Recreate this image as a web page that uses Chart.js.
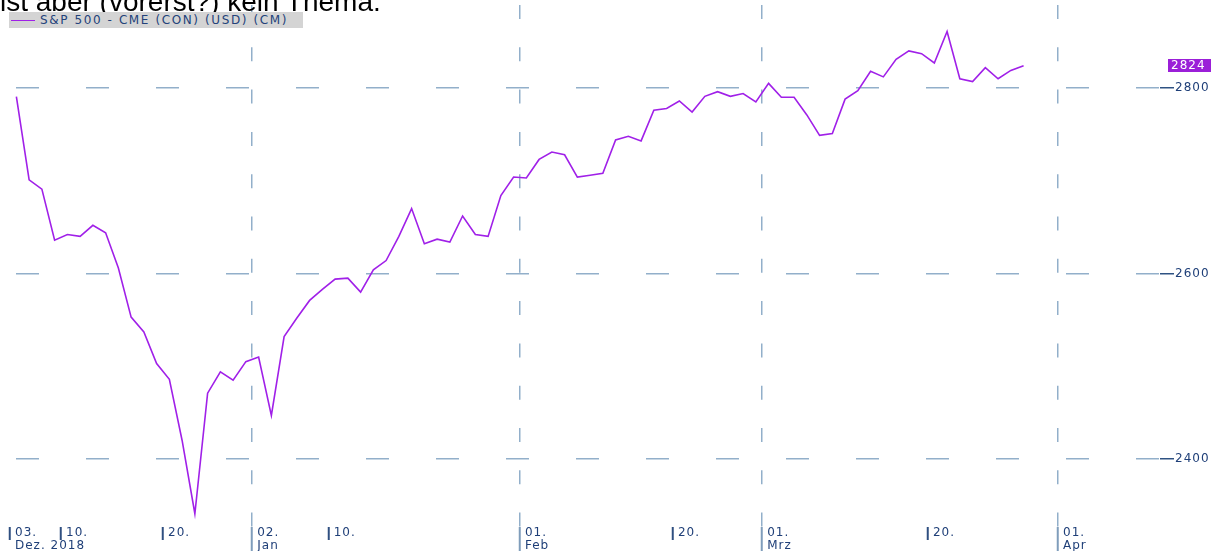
<!DOCTYPE html>
<html><head><meta charset="utf-8">
<script src="https://cdn.jsdelivr.net/npm/chart.js@4.4.1/dist/chart.umd.min.js"></script>
<style>
html,body{margin:0;padding:0;background:#fff;overflow:hidden;}
#wrap{position:relative;width:1215px;height:551px;overflow:hidden;background:#fff;}
#c{position:absolute;left:0;top:0;}
#top{position:absolute;left:0;top:-12px;font:28px/28px "Liberation Sans",Arial,sans-serif;color:#000;white-space:nowrap;}
#leg{position:absolute;left:9px;top:12px;width:294px;height:16px;background:#d4d4d4;font:12px/16px "DejaVu Sans",sans-serif;letter-spacing:1.6px;color:#23427a;white-space:nowrap;}
#leg i{display:inline-block;width:24px;height:0;border-top:1px solid #a020e8;vertical-align:middle;margin:0 5px 0 2px;}
</style></head>
<body><div id="wrap"><canvas id="c" width="1215" height="551"></canvas><div id="top">ist aber (vorerst?) kein Thema.</div><div id="leg"><i></i>S&amp;P 500 - CME (CON) (USD) (CM)</div></div>
<script>
const dates = [
 '2018-12-03','2018-12-04','2018-12-06','2018-12-07','2018-12-10','2018-12-11','2018-12-12','2018-12-13','2018-12-14','2018-12-17','2018-12-18','2018-12-19','2018-12-20','2018-12-21','2018-12-24','2018-12-26','2018-12-27','2018-12-28','2018-12-31',
 '2019-01-02','2019-01-03','2019-01-04','2019-01-07','2019-01-08','2019-01-09','2019-01-10','2019-01-11','2019-01-14','2019-01-15','2019-01-16','2019-01-17','2019-01-18','2019-01-22','2019-01-23','2019-01-24','2019-01-25','2019-01-28','2019-01-29','2019-01-30','2019-01-31',
 '2019-02-01','2019-02-04','2019-02-05','2019-02-06','2019-02-07','2019-02-08','2019-02-11','2019-02-12','2019-02-13','2019-02-14','2019-02-15','2019-02-19','2019-02-20','2019-02-21','2019-02-22','2019-02-25','2019-02-26','2019-02-27','2019-02-28',
 '2019-03-01','2019-03-04','2019-03-05','2019-03-06','2019-03-07','2019-03-08','2019-03-11','2019-03-12','2019-03-13','2019-03-14','2019-03-15','2019-03-18','2019-03-19','2019-03-20','2019-03-21','2019-03-22','2019-03-25','2019-03-26','2019-03-27','2019-03-28','2019-03-29'
];
const values = [
 2790.6,2701,2691,2636,2642,2640,2652,2644,2606,2553,2537,2503,2486,2420,2341,2471,2494,2485,2505,
 2510,2447,2532,2552,2571,2583,2594,2595,2580,2604,2614,2640,2670,2632,2637,2634,2662,2642,2640,2684,2704,
 2703,2723,2731,2728,2704,2706,2708,2744,2748,2743,2776,2778,2786,2774,2791,2796,2791,2794,2785,
 2805,2790,2790,2771,2749,2751,2788,2797,2818,2812,2831,2840,2837,2827,2861,2810,2807,2822,2810,2819,2824
];
const tickPos = [-0.5, 3.5, 11.5, 18.5, 24.5, 39.5, 51.5, 58.5, 71.5, 81.7];
const tickLabels = [['03.','Dez. 2018'],['10.'],['20.'],['02.','Jan'],['10.'],['01.','Feb'],['20.'],['01.','Mrz'],['20.'],['01.','Apr']];
const monthTick = [false,false,false,true,false,true,false,true,false,true];
const yTicks = [2400, 2600, 2800];
const seriesName = 'S&P 500 - CME (CON) (USD) (CM)';

const GRID = '#92afca';
const NAVY = '#1f3f78';
const xMin = -0.5, xMax = 89.7;
const yMin = 2326.7, yMax = 2889.5;

const spacing = { id:'spacing', beforeDraw(chart){ chart.ctx.letterSpacing = '1px'; } };
const lastLabel = {
  id:'lastLabel',
  afterDraw(chart){
    const {ctx, chartArea, scales:{y}} = chart;
    const v = values[values.length-1];
    const py = y.getPixelForValue(v);
    const x0 = chartArea.right + 8, w = 43, h = 13;
    ctx.save();
    ctx.fillStyle = '#9b1fd8';
    ctx.fillRect(x0, Math.round(py - h/2), w, h);
    ctx.fillStyle = '#ffffff';
    ctx.font = '12px "DejaVu Sans"';
    ctx.textAlign = 'left'; ctx.textBaseline = 'middle';
    ctx.fillText(String(Math.round(v)), x0 + 3, py + 0.5);
    ctx.restore();
  }
};

new Chart(document.getElementById('c'), {
  type: 'line',
  data: { datasets: [{
    label: seriesName,
    data: values.map((v,i)=>({x:i, y:v})),
    borderColor: '#a020e8', borderWidth: 1.6, pointRadius: 0, tension: 0, fill: false
  }]},
  options: {
    responsive: false, animation: false, devicePixelRatio: 1,
    layout: { padding: { top: 5, left: 10, right: 0, bottom: 0 } },
    plugins: { legend: { display: false }, tooltip: { enabled: false } },
    scales: {
      x: {
        type: 'linear', position: 'bottom', min: xMin, max: xMax,
        afterBuildTicks: s => { s.ticks = tickPos.map(v => ({ value: v })); },
        afterFit: s => { s.height = 24; s.paddingLeft = 0; s.paddingRight = 0; },
        ticks: {
          autoSkip: false, maxRotation: 0, minRotation: 0, align: 'start', labelOffset: 5, padding: -25,
          color: NAVY, font: { family: 'DejaVu Sans', size: 12, lineHeight: '13px' },
          callback: (v, i) => tickLabels[i]
        },
        grid: {
          drawOnChartArea: true, drawTicks: true, tickLength: 24, lineWidth: 1.5,
          color: c => monthTick[c.index] ? GRID : 'rgba(0,0,0,0)',
          tickColor: c => monthTick[c.index] ? '#7f9dbb' : '#2f4f80',
          tickWidth: 2,
          tickBorderDash: c => monthTick[c.index] ? [] : [13, 40]
        },
        border: { display: false, dash: [14, 28.3] }
      },
      y: {
        type: 'linear', position: 'right', min: yMin, max: yMax,
        afterBuildTicks: s => { s.ticks = yTicks.map(v => ({ value: v })); },
        afterFit: s => { s.width = 55; s.paddingTop = 0; s.paddingBottom = 0; },
        ticks: { padding: 1, color: NAVY, font: { family: 'DejaVu Sans', size: 12 }, callback: v => String(v) },
        grid: { lineWidth: 1.5, color: GRID, tickLength: 14, tickColor: '#2f5283', tickWidth: 1.5 },
        border: { display: false, dash: [23, 47], dashOffset: 64 }
      }
    }
  },
  plugins: [spacing, lastLabel]
});
</script>
</body></html>
